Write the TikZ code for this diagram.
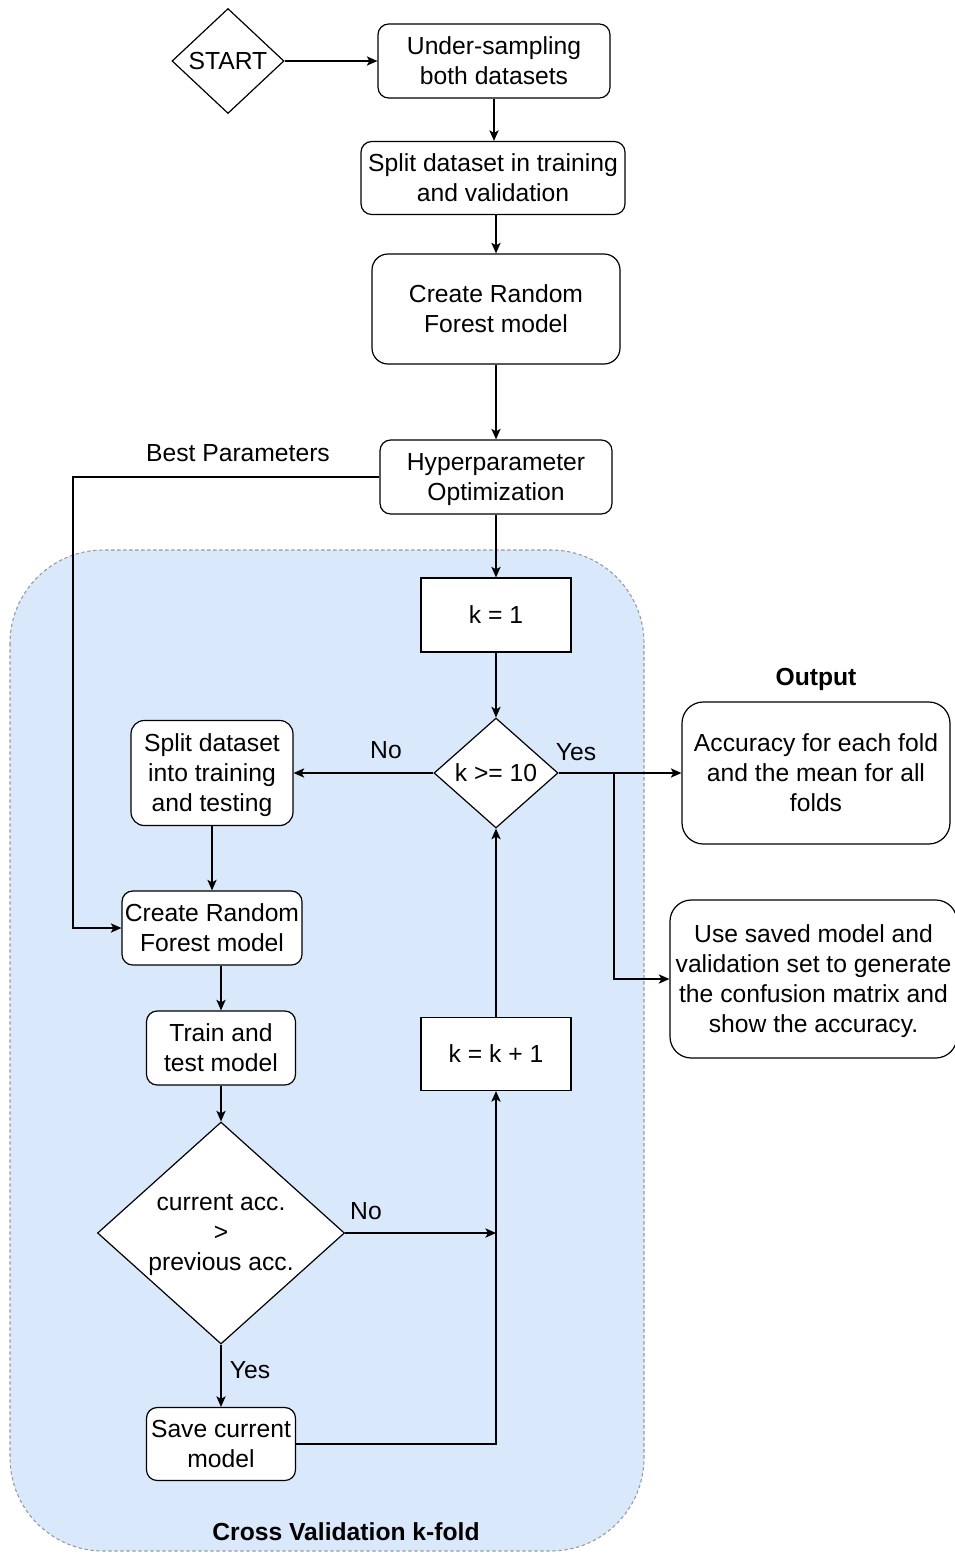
\documentclass[tikz,border=0pt]{standalone}
\usepackage{fontspec}
\setmainfont{Liberation Sans}
\usetikzlibrary{arrows.meta,shapes.geometric}
\definecolor{cvfill}{HTML}{DAE8FC}
\definecolor{cvline}{HTML}{999999}
\tikzset{
  sz/.style 2 args={minimum width=#1*0.75pt,minimum height=#2*0.75pt},
  rbox/.style={draw,fill=white,line width=0.9pt,rounded corners=#1,align=center,inner sep=0pt},
  rbox/.default=8pt,
  sbox/.style={draw,fill=white,line width=0.9pt,align=center,inner sep=0pt},
  dia/.style={draw,fill=white,line width=0.9pt,diamond,align=center,inner sep=0pt,aspect=#1},
  lowtext/.style={text depth=-2pt},
  arr/.style={line width=0.9pt,-{Stealth[length=8pt,width=7pt,inset=2pt]}},
  lbl/.style={inner sep=0pt},
  cluster/.style={draw=cvline,fill=cvfill,line width=0.8pt,dash pattern=on 2.5pt off 2pt,rounded corners=70pt}
}
\begin{document}
\begin{tikzpicture}[x=0.75pt,y=-0.75pt,
  every node/.style={font=\fontsize{18.5}{22.5}\selectfont}]
\useasboundingbox (0,0) rectangle (955,1553);

% cross-validation container
\draw[cluster] (10,550) rectangle (644,1551);
\node[lbl,font=\fontsize{18.5}{22.5}\selectfont\bfseries] (cvtitle) at (346,1532) {Cross Validation k-fold};

% main column
\node[dia=1.067,sz={112}{105}] (start) at (228,61) {START};
\node[rbox,lowtext,sz={232}{74}] (under) at (494,61) {Under-sampling\\both datasets};
\node[rbox,lowtext,sz={264}{73}] (splitv) at (493,178) {Split dataset in training\\and validation};
\node[rbox=12pt,lowtext,sz={248}{110}] (rf1) at (496,309) {Create Random\\Forest model};
\node[rbox,lowtext,sz={232}{74}] (hyper) at (496,477) {Hyperparameter\\Optimization};
\node[sbox,sz={150}{74}] (k1) at (496,615) {k = 1};
\node[dia=1.127,sz={124}{110}] (kcheck) at (496,773) {k >= 10};
\node[sbox,sz={150}{73}] (kinc) at (496,1054) {k = k + 1};

% fold loop
\node[rbox=10pt,lowtext,sz={162}{105}] (splitt) at (212,773) {Split dataset\\into training\\and testing};
\node[rbox,lowtext,sz={180}{74}] (rf2) at (212,928) {Create Random\\Forest model};
\node[rbox,lowtext,sz={149}{74}] (train) at (221,1048) {Train and\\test model};
\node[dia=1.11,lowtext,sz={247}{222}] (acc) at (221,1233) {current acc.\\>\\previous acc.};
\node[rbox,lowtext,sz={149}{73}] (save) at (221,1444) {Save current\\model};

% outputs
\node[lbl,font=\fontsize{18.5}{22.5}\selectfont\bfseries] (outtitle) at (816,679) {Output};
\node[rbox=16pt,lowtext,sz={268}{142}] (out1) at (816,773) {Accuracy for each fold\\and the mean for all\\folds};
\node[rbox=16pt,lowtext,sz={287}{158}] (out2) at (813.5,979) {Use saved model and\\validation set to generate\\the confusion matrix and\\show the accuracy.};

% connectors
\coordinate (bp) at (73,477);
\coordinate (yb) at (614,773);
\draw[arr] (start.east) -- (under.west);
\draw[arr] (under.south) -- (under.south |- splitv.north);
\draw[arr] (rf1.north |- splitv.south) -- (rf1.north);
\draw[arr] (rf1.south) -- (hyper.north);
\draw[arr] (hyper.south) -- (k1.north);
\draw[arr] (hyper.west) -- (bp) |- (rf2.west);
\node[lbl] (bptext) at (238,453) {Best Parameters};
\draw[arr] (k1.south) -- (kcheck.north);
\draw[arr] (kcheck.west) -- (splitt.east);
\node[lbl] (nolbl1) at (386,750) {No};
\draw[arr] (kcheck.east) -- (out1.west);
\node[lbl] (yeslbl1) at (576,752) {Yes};
\draw[arr] (yb) |- (out2.west);
\draw[arr] (splitt.south) -- (rf2.north);
\draw[arr] (train.north |- rf2.south) -- (train.north);
\draw[arr] (train.south) -- (acc.north);
\draw[arr] (acc.east) -- (acc.east -| kinc.south);
\node[lbl] (nolbl2) at (366,1211) {No};
\draw[arr] (acc.south) -- (save.north);
\node[lbl] (yeslbl2) at (250,1370) {Yes};
\draw[arr] (save.east) -| (kinc.south);
\draw[arr] (kinc.north) -- (kcheck.south);
\end{tikzpicture}
\end{document}
